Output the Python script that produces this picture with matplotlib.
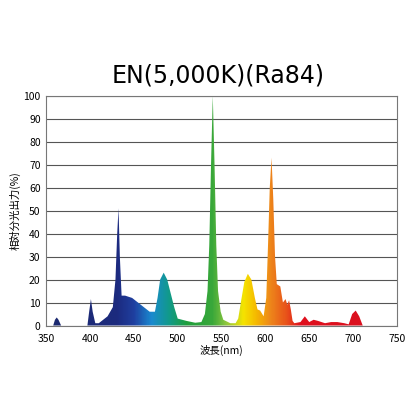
import numpy as np
import matplotlib.pyplot as plt
from matplotlib.colors import LinearSegmentedColormap
from matplotlib.patches import Polygon

plt.rcParams['font.family'] = ['Noto Sans CJK JP', 'DejaVu Sans']

# spectrum (nm, %)
wl = [350, 358, 360, 362, 364, 367, 397, 399, 401, 403, 406, 410, 420, 426, 429, 431, 432.5,
      434, 436, 440, 448, 458, 468, 474, 477, 480, 484, 488, 492, 496, 500, 510, 520, 527,
      531, 534, 536, 538, 540, 542, 544, 546, 549, 552, 560, 566, 569, 572, 576, 580, 584,
      588, 591, 594, 598, 601, 603, 605, 607, 609, 611, 613, 617, 620, 623, 625, 627, 629,
      631, 633, 640, 645, 650, 655, 660, 668, 675, 682, 690, 695, 699, 703, 707, 711, 750]
val = [0, 0, 2.5, 3.5, 2.5, 0, 0, 6, 11.5, 6, 1, 1, 4, 8, 20, 40, 51,
       30, 13, 13, 12, 9, 6, 6, 12, 20, 23, 20, 14, 8, 3, 2, 1.2, 1.5,
       5, 15, 35, 70, 100, 70, 35, 15, 6, 2.5, 1, 1, 3, 10, 19, 22.5, 20,
       12, 7, 6.5, 4, 12, 35, 60, 73, 55, 30, 18, 17, 10, 11.5, 9, 11, 7,
       2, 1, 1.5, 4, 1.5, 2.5, 2, 1, 1.5, 1.5, 1, 0.5, 5, 6.5, 4, 0, 0]

stops = [(350, '#1c2a6e'), (430, '#1c2a7e'), (450, '#1f3fa0'), (470, '#1a8ad0'),
         (490, '#119a8a'), (510, '#1e9e3c'), (540, '#3aa83a'), (555, '#8cc63f'),
         (575, '#f5e400'), (590, '#f5b800'), (605, '#ee8a1a'), (625, '#e8501a'),
         (640, '#e0101e'), (750, '#d8101e')]
cmap = LinearSegmentedColormap.from_list(
    'spec', [((w - 350) / 400, c) for w, c in stops])

fig, ax = plt.subplots(figsize=(4.2, 4.2), dpi=100)
fig.subplots_adjust(left=0.11, right=0.945, top=0.772, bottom=0.225)

grad = np.linspace(0, 1, 800).reshape(1, -1)
im = ax.imshow(grad, extent=[350, 750, 0, 100], aspect='auto', cmap=cmap, zorder=2)
poly = Polygon(np.column_stack([wl, val]), closed=True, transform=ax.transData)
im.set_clip_path(poly)

ax.set_xlim(350, 750)
ax.set_ylim(0, 100)
ax.set_xticks(range(350, 751, 50))
ax.set_yticks(range(0, 101, 10))
ax.yaxis.grid(True, color='#555555', lw=0.8)
ax.set_axisbelow(True)
ax.tick_params(length=0, labelsize=7.5)
ax.tick_params(axis='x', pad=6)
ax.tick_params(axis='y', pad=4)
for s in ax.spines.values():
    s.set_color('#777777')
    s.set_linewidth(0.8)

ax.set_xlabel('波長(nm)', fontsize=7.5, labelpad=1)
ax.set_ylabel('相対分光出力(%)', fontsize=7.5, labelpad=2)
fig.text(0.52, 0.82, 'EN(5,000K)(Ra84)', ha='center', va='center', fontsize=17,
         family=['DejaVu Sans'])

fig.savefig('out.png')
